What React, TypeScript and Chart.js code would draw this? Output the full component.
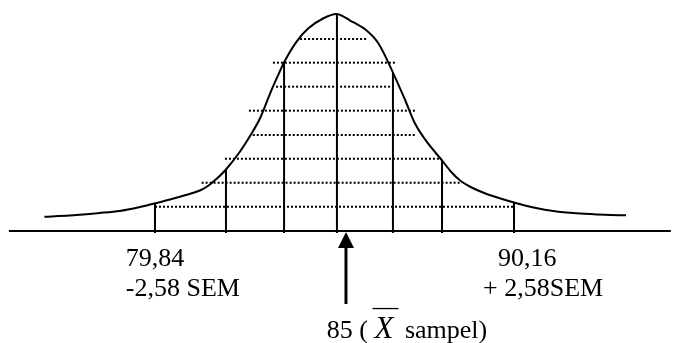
import React, { useEffect, useRef } from "react";
import { Chart, registerables } from "chart.js";

Chart.register(...registerables);

// x: score value, y: relative height of the normal curve (peak = 100)
const CURVE_X = [
  76.66, 77.38, 78.24, 78.82, 79.41, 79.84, 80.27, 80.7, 81.13, 81.36, 81.62, 81.88,
  82.28, 82.62, 82.86, 83.15, 83.36, 83.56, 83.91, 84.25, 84.67, 85.07, 85.45, 85.88,
  86.26, 86.69, 87.03, 87.31, 87.65, 88.08, 88.37, 88.63, 88.94, 89.34, 89.75, 90.16,
  90.76, 91.34, 92.06, 92.77, 93.38,
];
const CURVE_Y = [
  6.59, 7.1, 8.29, 9.22, 11.06, 12.76, 14.51, 16.45, 18.66, 20.74, 24.19, 28.34,
  36.54, 45.02, 51.94, 63.46, 71.11, 78.02, 87.24, 93.41, 97.93, 100, 97.0, 92.95,
  86.5, 72.67, 60.37, 49.63, 41.15, 32.72, 26.96, 23.04, 20.05, 17.28, 15.07, 13.13,
  10.69, 9.12, 8.02, 7.47, 7.24,
];

// vertical lines under the curve
const VERT_X = [79.84, 81.88, 83.55, 85.07, 86.68, 88.09, 90.16];
const VERT_TOP = [12.9, 28.6, 77.9, 100, 72.8, 32.7, 13.0];
const VERT_BOTTOM = -0.92;

// dotted horizontal lines
const DOT_Y = [88.48, 77.56, 66.5, 55.44, 44.24, 33.32, 22.26, 11.2];
const DOT_FROM = [84.01, 83.23, 83.32, 82.54, 82.65, 81.85, 81.18, 79.84];
const DOT_TO = [85.93, 86.74, 86.64, 87.36, 87.36, 88.08, 88.66, 90.16];

// base axis
const AXIS_X = [75.64, 94.67];
const AXIS_Y = 0;

// arrow pointing at the sample mean
const ARROW_X = 85.33;
const ARROW_TIP = -0.46;
const ARROW_SHAFT = [-33.64, -7.0];

// labels
const TICK_LABELS = ["79,84", "-2,58 SEM", "90,16", "+ 2,58SEM"];
const TICK_LABEL_X = [79.0, 79.0, 89.7, 89.27];
const TICK_LABEL_Y = [-16.3, -30.1, -16.3, -30.1];
const MEAN_LABEL = ["85 ( ", "X", " sampel)"];
const MEAN_LABEL_X = 84.78;
const MEAN_LABEL_Y = -49.1;

const X_MIN = 75.384;
const X_MAX = 94.731;
const Y_MIN = -51.61;
const Y_MAX = 106.45;

const FONT = '"Liberation Serif", "Times New Roman", serif';

const textPlugin = {
  id: "textPlugin",
  afterDraw(chart: any) {
    const ctx = chart.ctx;
    const xs = chart.scales.x;
    const ys = chart.scales.y;
    ctx.save();
    ctx.fillStyle = "#000";
    ctx.strokeStyle = "#000";
    ctx.textBaseline = "alphabetic";
    ctx.textAlign = "left";

    // arrow head
    const ax = xs.getPixelForValue(ARROW_X);
    const at = ys.getPixelForValue(ARROW_TIP);
    ctx.beginPath();
    ctx.moveTo(ax, at);
    ctx.lineTo(ax + 8, at + 16);
    ctx.lineTo(ax - 8, at + 16);
    ctx.closePath();
    ctx.fill();

    ctx.font = "26px " + FONT;
    TICK_LABELS.forEach((t, i) => {
      ctx.fillText(t, xs.getPixelForValue(TICK_LABEL_X[i]), ys.getPixelForValue(TICK_LABEL_Y[i]));
    });

    // mean label with X-bar
    let px = xs.getPixelForValue(MEAN_LABEL_X);
    const py = ys.getPixelForValue(MEAN_LABEL_Y);
    ctx.font = "26px " + FONT;
    ctx.fillText(MEAN_LABEL[0], px, py);
    px += ctx.measureText(MEAN_LABEL[0]).width;
    ctx.font = "italic 31px " + FONT;
    ctx.fillText(MEAN_LABEL[1], px, py);
    const xw = ctx.measureText(MEAN_LABEL[1]).width;
    ctx.lineWidth = 1.3;
    ctx.beginPath();
    ctx.moveTo(px - 2, py - 29);
    ctx.lineTo(px + xw + 5, py - 29);
    ctx.stroke();
    px += xw + 5;
    ctx.font = "26px " + FONT;
    ctx.fillText(MEAN_LABEL[2], px, py);
    ctx.restore();
  },
};

export default function App() {
  const ref = useRef<HTMLCanvasElement | null>(null);

  useEffect(() => {
    if (!ref.current) return;
    const datasets: any[] = [];

    DOT_Y.forEach((y, i) => {
      datasets.push({
        data: [
          { x: DOT_FROM[i], y },
          { x: DOT_TO[i], y },
        ],
        showLine: true,
        borderColor: "#000",
        borderWidth: 2,
        borderDash: [2, 2],
        pointRadius: 0,
      });
    });

    VERT_X.forEach((x, i) => {
      datasets.push({
        data: [
          { x, y: VERT_BOTTOM },
          { x, y: VERT_TOP[i] },
        ],
        showLine: true,
        borderColor: "#000",
        borderWidth: 2,
        pointRadius: 0,
      });
    });

    datasets.push({
      data: CURVE_X.map((x, i) => ({ x, y: CURVE_Y[i] })),
      showLine: true,
      borderColor: "#000",
      borderWidth: 2,
      tension: 0.3,
      pointRadius: 0,
    });

    datasets.push({
      data: AXIS_X.map((x) => ({ x, y: AXIS_Y })),
      showLine: true,
      borderColor: "#000",
      borderWidth: 2,
      pointRadius: 0,
    });

    datasets.push({
      data: ARROW_SHAFT.map((y) => ({ x: ARROW_X, y })),
      showLine: true,
      borderColor: "#000",
      borderWidth: 3,
      pointRadius: 0,
    });

    const chart = new Chart(ref.current, {
      type: "scatter",
      data: { datasets },
      options: {
        animation: false,
        responsive: false,
        devicePixelRatio: 1,
        layout: { padding: 0 },
        plugins: { legend: { display: false }, tooltip: { enabled: false } },
        events: [],
        scales: {
          x: { type: "linear", min: X_MIN, max: X_MAX, display: false },
          y: { type: "linear", min: Y_MIN, max: Y_MAX, display: false },
        },
      },
      plugins: [textPlugin],
    });
    return () => chart.destroy();
  }, []);

  return (
    <div style={{ position: "absolute", left: 0, top: 0, width: 673, height: 343, background: "#fff" }}>
      <canvas ref={ref} width={673} height={343} style={{ display: "block" }} />
    </div>
  );
}
